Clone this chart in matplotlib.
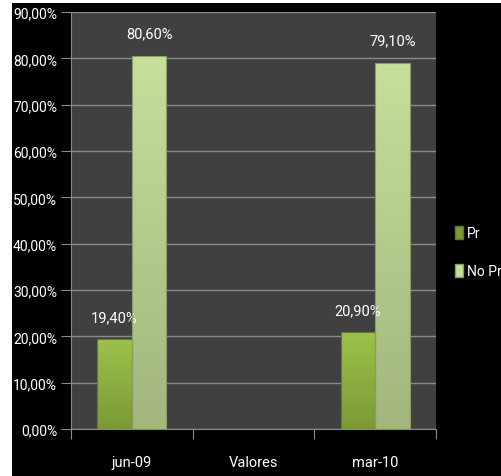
import numpy as np
import matplotlib
matplotlib.use('Agg')
import matplotlib.pyplot as plt
import matplotlib.patches as patches
from matplotlib.ticker import FuncFormatter, MultipleLocator

plt.rcParams['font.family'] = ['Roboto', 'DejaVu Sans']

categories = ['jun-09', 'Valores', 'mar-10']
series_names = ['Pr', 'No Pr']
pr_values = [19.4, np.nan, 20.9]
nopr_values = [80.6, np.nan, 79.1]

# top / bottom colours of each series gradient
pr_colors = ('#9cc24a', '#7b9a35')
nopr_colors = ('#c6df9a', '#a2b67e')

fig = plt.figure(figsize=(5.01, 4.77), dpi=100, facecolor='white')
# black backdrop (picture has a thin white border on the left and top)
fig.add_artist(patches.Rectangle((12 / 501, 0), 1, 473 / 477, transform=fig.transFigure,
                                 facecolor='black', edgecolor='none', zorder=-10))

ax = fig.add_axes([71 / 501, 47 / 477, 365 / 501, 417 / 477])
ax.set_facecolor('#404040')

x = np.arange(len(categories))
w = 0.283


def gradient_bars(bars, cols):
    for b in bars:
        if np.isnan(b.get_height()):
            continue
        x0, y0 = b.get_x(), b.get_y()
        x1, y1 = x0 + b.get_width(), y0 + b.get_height()
        c0 = np.array(matplotlib.colors.to_rgb(cols[0]))
        c1 = np.array(matplotlib.colors.to_rgb(cols[1]))
        t = np.linspace(0, 1, 64)[:, None]
        img = (c0 * (1 - t) + c1 * t)[:, None, :]
        im = ax.imshow(img, extent=[x0, x1, y0, y1], aspect='auto', zorder=3, origin='upper')
        im.set_clip_path(b)
        b.set_facecolor('none')


bars_pr = ax.bar(x - w / 2, pr_values, w, color=pr_colors[1], edgecolor='#5f7a28',
                 linewidth=0.8, zorder=4, label=series_names[0])
bars_np = ax.bar(x + w / 2, nopr_values, w, color=nopr_colors[1], edgecolor='#8a9c6a',
                 linewidth=0.8, zorder=4, label=series_names[1])
gradient_bars(bars_pr, pr_colors)
gradient_bars(bars_np, nopr_colors)

fmt = lambda v: ('%.2f%%' % v).replace('.', ',')
for bars in (bars_pr, bars_np):
    for b in bars:
        h = b.get_height()
        if np.isnan(h):
            continue
        ax.annotate(fmt(h), (b.get_x() + b.get_width() / 2, h), xytext=(0, 11),
                    textcoords='offset points', ha='center', va='bottom',
                    color='white', fontsize=10.5)

ax.set_xlim(-0.5, 2.5)
ax.set_ylim(0, 90)
ax.yaxis.set_major_locator(MultipleLocator(10))
ax.yaxis.set_major_formatter(FuncFormatter(lambda v, p: fmt(v)))
ax.grid(axis='y', color='#8a8a8a', linewidth=1, zorder=1)
ax.set_axisbelow(True)

ax.set_xticks([-0.5, 0.5, 1.5, 2.5])
ax.set_xticklabels([])
ax.set_xticks(x, minor=True)
ax.set_xticklabels(categories, minor=True)
ax.tick_params(axis='x', which='major', length=7, color='#8a8a8a', direction='out')
ax.tick_params(axis='x', which='minor', length=0, pad=19, labelcolor='white', labelsize=10.5)
ax.tick_params(axis='y', length=7, color='#8a8a8a', labelcolor='white', labelsize=10, pad=3)

for s in ('top', 'right'):
    ax.spines[s].set_visible(False)
ax.spines['left'].set_color('#8a8a8a')
ax.spines['bottom'].set_color('#8a8a8a')

handles = [patches.Patch(facecolor=pr_colors[1], edgecolor='#5f7a28'),
           patches.Patch(facecolor=nopr_colors[0], edgecolor='#8a9c6a')]
fig.legend(handles, series_names, loc='upper left', bbox_to_anchor=(442 / 501, 1 - 214 / 477),
           frameon=False, labelcolor='white', fontsize=10, handlelength=0.6, handleheight=1.1,
           handletextpad=0.3, labelspacing=1.7)

fig.savefig('out.png', dpi=100, facecolor='white')
